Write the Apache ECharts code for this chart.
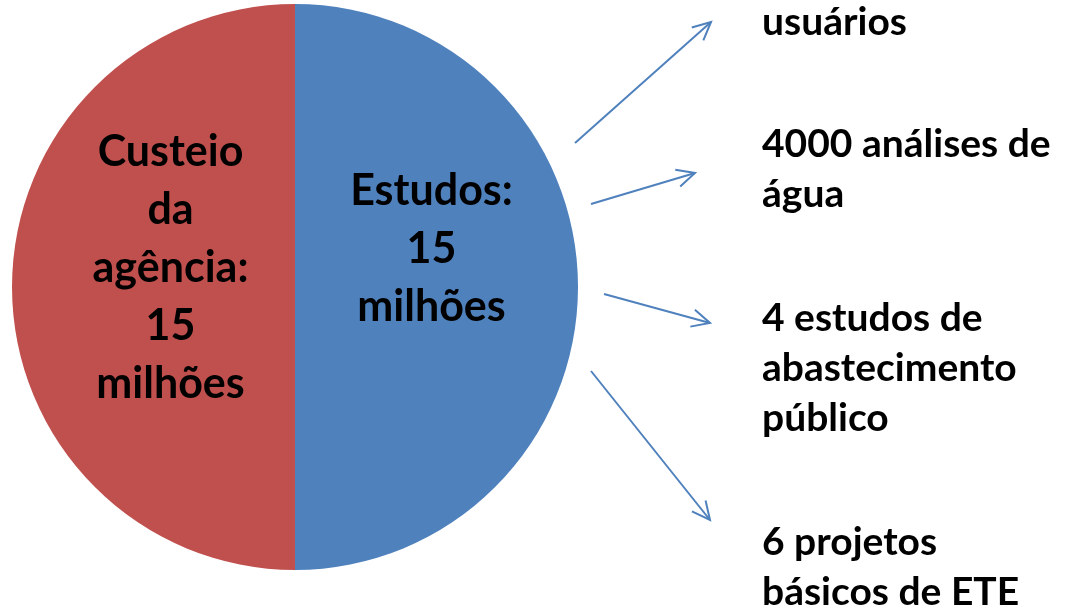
<!DOCTYPE html>
<html>
<head>
<meta charset="utf-8">
<script src="https://cdn.jsdelivr.net/npm/echarts@6/dist/echarts.min.js"></script>
<style>
html,body{margin:0;padding:0;background:#fff;}
#chart{width:1068px;height:610px;}
</style>
</head>
<body>
<div id="chart"></div>
<script>
// fatias do orçamento (milhões)
var categorias = ['Estudos', 'Custeio da agência'];
var valores = [15, 15];
var rotulos = ['Estudos:\n15\nmilhões', 'Custeio\nda\nagência:\n15\nmilhões'];
var cores = ['#4F81BD', '#C0504D'];
// o que sai dos estudos
var itensEstudos = ['usuários', '4000 análises de\nágua', '4 estudos de\nabastecimento\npúblico', '6 projetos\nbásicos de ETE'];

var fonte = 'Lato, "Open Sans", sans-serif';

// seta simples (linha + ponta aberta)
function seta(x1, y1, x2, y2) {
    var ang = Math.atan2(y2 - y1, x2 - x1);
    var l = 20, a = 0.45;
    return [{
        type: 'polyline',
        shape: {points: [[x1, y1], [x2, y2]]},
        style: {stroke: '#4F81BD', lineWidth: 2, fill: null}
    }, {
        type: 'polyline',
        shape: {points: [
            [x2 - l * Math.cos(ang - a), y2 - l * Math.sin(ang - a)],
            [x2, y2],
            [x2 - l * Math.cos(ang + a), y2 - l * Math.sin(ang + a)]
        ]},
        style: {stroke: '#4F81BD', lineWidth: 2, fill: null}
    }];
}

var graficos = [];
graficos = graficos.concat(seta(575, 143, 711, 22));
graficos = graficos.concat(seta(591, 204, 695, 173));
graficos = graficos.concat(seta(604, 294, 710, 323));
graficos = graficos.concat(seta(591, 371, 710, 520));

var topos = [-3, 119, 293, 517];
for (var i = 0; i < itensEstudos.length; i++) {
    graficos.push({
        type: 'text',
        x: 762,
        y: topos[i],
        style: {
            text: itensEstudos[i],
            font: 'bold 39px ' + fonte,
            lineHeight: 50,
            fill: '#000',
            verticalAlign: 'top'
        }
    });
}

var dados = [];
for (var j = 0; j < categorias.length; j++) {
    dados.push({
        name: categorias[j],
        value: valores[j],
        itemStyle: {color: cores[j]}
    });
}

// deslocamento dos rótulos dentro das fatias
var desloc = [[-8, -38], [20, -19]];

var myChart = echarts.init(document.getElementById('chart'));
myChart.setOption({
    animation: false,
    series: [{
        type: 'pie',
        center: [295, 287],
        radius: 283,
        startAngle: 90,
        clockwise: true,
        silent: true,
        label: {
            show: true,
            position: 'inside',
            color: '#000',
            fontFamily: fonte,
            fontWeight: 'bold',
            fontSize: 43,
            lineHeight: 58,
            align: 'center',
            formatter: function (p) { return rotulos[p.dataIndex]; }
        },
        labelLayout: function (p) {
            return {dx: desloc[p.dataIndex][0], dy: desloc[p.dataIndex][1]};
        },
        labelLine: {show: false},
        data: dados
    }],
    graphic: graficos
});
</script>
</body>
</html>
